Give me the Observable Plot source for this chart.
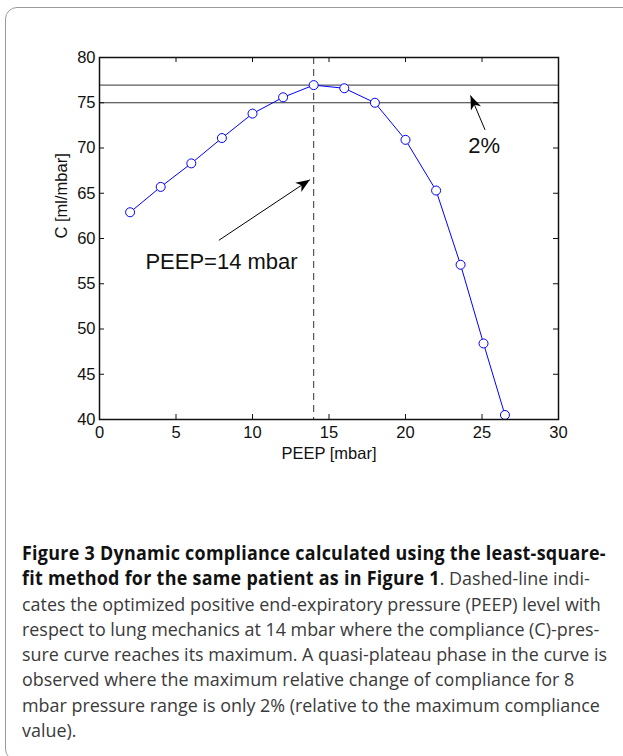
<!DOCTYPE html>
<html>
<head>
<meta charset="utf-8">
<script src="https://cdn.jsdelivr.net/npm/d3@7"></script>
<script src="https://cdn.jsdelivr.net/npm/@observablehq/plot@0.6"></script>
<style>
  html, body { margin: 0; padding: 0; background: #fff; }
  body { width: 623px; height: 756px; position: relative; overflow: hidden; }
  #box { position: absolute; left: 5px; top: 7px; width: 700px; height: 752px;
         border: 1px solid #9a9a9a; border-radius: 12px; z-index: 2; pointer-events: none; }
  #chart { position: absolute; left: 0; top: 0; }
  #caption { position: absolute; left: 22px; top: 541px; font-family: "Open Sans", sans-serif;
             font-size: 19px; line-height: 25.3px; color: #3a3a3a; white-space: nowrap;
             transform-origin: 0 0; }
  #caption .ln { display: block; }
  #caption .ln span.t { display: inline-block; }
  #caption b { font-weight: 700; color: #111; letter-spacing: 0.3px; }
</style>
</head>
<body>
<div id="chart"></div>
<div id="box"></div>
<div id="caption">
  <div class="ln"><span class="t"><b>Figure 3 Dynamic compliance calculated using the least-square-</b></span></div>
  <div class="ln"><span class="t"><b>fit method for the same patient as in Figure 1</b>. Dashed-line indi-</span></div>
  <div class="ln"><span class="t">cates the optimized positive end-expiratory pressure (PEEP) level with</span></div>
  <div class="ln"><span class="t">respect to lung mechanics at 14 mbar where the compliance (C)-pres-</span></div>
  <div class="ln"><span class="t">sure curve reaches its maximum. A quasi-plateau phase in the curve is</span></div>
  <div class="ln"><span class="t">observed where the maximum relative change of compliance for 8</span></div>
  <div class="ln"><span class="t">mbar pressure range is only 2% (relative to the maximum compliance</span></div>
  <div class="ln"><span class="t">value).</span></div>
</div>
<script>
// ---- data ----
const peep = [2, 4, 6, 8, 10, 12, 14, 16, 18, 20, 22, 23.6, 25.1, 26.5];
const compliance = [62.9, 65.7, 68.3, 71.1, 73.8, 75.6, 76.95, 76.6, 75.0, 70.9, 65.3, 57.1, 48.4, 40.5];
const xTicks = [0, 5, 10, 15, 20, 25, 30];
const yTicks = [40, 45, 50, 55, 60, 65, 70, 75, 80];
const plateauLevels = [76.95, 75.0];
const optimalPeep = [14];
const noteText = ["PEEP=14 mbar", "2%"];
const noteX = [3.0, 24.1];
const noteY = [56.6, 69.5];
const arrowFromX = [7.8, 25.2];
const arrowFromY = [59.8, 72.0];
const arrowToX = [13.75, 24.25];
const arrowToY = [66.5, 75.8];
const xLabel = "PEEP [mbar]";
const yLabel = "C [ml/mbar]";

const points = peep.map((x, i) => ({x, c: compliance[i]}));
const notes = noteText.map((t, i) => ({t, x: noteX[i], y: noteY[i]}));
const arrows = arrowFromX.map((x1, i) => ({x1, y1: arrowFromY[i], x2: arrowToX[i], y2: arrowToY[i]}));

const FONT = "'Liberation Sans', Arial, Helvetica, sans-serif";

function solidHead(color, context) {
  const m = d3.create("svg:marker")
    .attr("viewBox", "-15 -7 16 14")
    .attr("markerWidth", 16)
    .attr("markerHeight", 14)
    .attr("markerUnits", "userSpaceOnUse")
    .attr("orient", "auto")
    .attr("refX", 0)
    .attr("refY", 0)
    .attr("fill", "#000")
    .attr("stroke", "none");
  m.append("path").attr("d", "M0,0L-14,-5.5L-10,0L-14,5.5Z");
  return m.node();
}

const W = 623, H = 480, mt = 57, mr = 65, mb = 61, ml = 99;
const pw = W - ml - mr, ph = H - mt - mb;

const chart = Plot.plot({
  width: W, height: H,
  marginTop: mt, marginRight: mr, marginBottom: mb, marginLeft: ml,
  style: {fontFamily: FONT, fontSize: "16px", background: "transparent", color: "#111"},
  x: {domain: [0, 30], label: null},
  y: {domain: [40, 80], label: null},
  marks: [
    Plot.ruleY(plateauLevels, {stroke: "#333", strokeWidth: 1}),
    Plot.ruleX(optimalPeep, {stroke: "#333", strokeWidth: 1, strokeDasharray: "7,5"}),
    Plot.line(points, {x: "x", y: "c", stroke: "#0000ff", strokeWidth: 1}),
    Plot.dot(points, {x: "x", y: "c", r: 4.5, stroke: "#0000ff", fill: "white", strokeWidth: 1}),
    Plot.link(arrows, {x1: "x1", y1: "y1", x2: "x2", y2: "y2", stroke: "#000", strokeWidth: 1, markerEnd: solidHead}),
    Plot.text(notes, {x: "x", y: "y", text: "t", textAnchor: "start", lineAnchor: "bottom", fontSize: 22, fontFamily: FONT, fill: "#111"}),
    Plot.tickX(xTicks, {x: d => d, insetTop: ph - 5, stroke: "#111"}),
    Plot.tickX(xTicks, {x: d => d, insetBottom: ph - 5, stroke: "#111"}),
    Plot.tickY(yTicks, {y: d => d, insetRight: pw - 5, stroke: "#111"}),
    Plot.tickY(yTicks, {y: d => d, insetLeft: pw - 5, stroke: "#111"}),
    Plot.axisX(xTicks, {tickSize: 0, tickPadding: 7, label: null, fontSize: 16.5, fontFamily: FONT, fill: "#111"}),
    Plot.axisY(yTicks, {tickSize: 0, tickPadding: 4, label: null, fontSize: 16.5, fontFamily: FONT, fill: "#111"}),
    Plot.frame({stroke: "#111", strokeWidth: 1.5}),
    Plot.text([xLabel], {frameAnchor: "bottom", dy: 28, lineAnchor: "top", fontSize: 16.5, fontFamily: FONT, fill: "#111"}),
    Plot.text([yLabel], {frameAnchor: "left", dx: -38, rotate: -90, lineAnchor: "middle", fontSize: 16.5, fontFamily: FONT, fill: "#111"})
  ]
});
document.getElementById("chart").appendChild(chart);

function fitCaption() {
  const cap = document.getElementById("caption");
  let maxW = 0;
  cap.querySelectorAll(".t").forEach(s => { maxW = Math.max(maxW, s.offsetWidth); });
  if (maxW > 0) cap.style.transform = `scaleX(${585 / maxW})`;
}
fitCaption();
if (document.fonts && document.fonts.ready) document.fonts.ready.then(fitCaption);
</script>
</body>
</html>
